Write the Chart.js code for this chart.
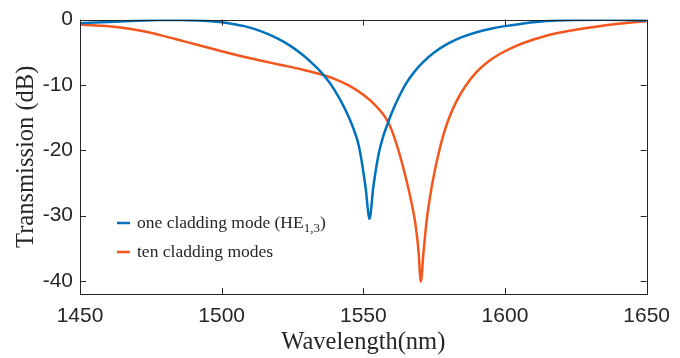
<!DOCTYPE html>
<html>
<head>
<meta charset="utf-8">
<script src="https://cdn.jsdelivr.net/npm/chart.js@4.4.0/dist/chart.umd.min.js"></script>
<style>
  html, body { margin: 0; padding: 0; background: #fff; }
  #wrap { width: 680px; height: 358px; }
</style>
</head>
<body>
<div id="wrap"><canvas id="myChart" width="680" height="358"></canvas></div>
<script>
// wavelength (nm) and transmission (dB)
var blueX = [1450, 1460, 1470, 1478, 1485, 1492, 1500, 1504, 1508, 1512, 1516, 1520, 1524, 1528, 1532, 1535, 1538, 1540, 1542, 1544, 1546, 1548, 1549, 1550.8, 1552.2, 1553.5, 1555.4, 1557, 1558.7, 1560, 1562, 1565, 1568, 1571, 1575, 1580, 1585, 1590, 1595, 1600, 1606, 1612, 1618, 1624, 1635, 1650];
var blueY = [-0.55, -0.35, -0.18, -0.08, -0.05, -0.15, -0.42, -0.66, -1.0, -1.5, -2.15, -2.95, -3.95, -5.2, -6.7, -8.0, -9.6, -10.9, -12.4, -14.1, -16.1, -18.6, -20.6, -25.7, -30.5, -25.7, -20.6, -17.9, -15.8, -14.3, -12.35, -9.85, -8.0, -6.55, -5.05, -3.65, -2.65, -1.93, -1.4, -1.0, -0.62, -0.34, -0.15, -0.05, -0.03, -0.12];

var orangeX = [1450, 1458, 1465, 1472, 1479, 1486, 1493, 1500, 1507, 1514, 1521, 1528, 1534, 1540, 1545, 1550, 1554, 1557, 1559, 1561, 1563, 1565, 1567, 1568.5, 1569.5, 1570.3, 1571.2, 1572.4, 1574.1, 1576.5, 1578.5, 1580.5, 1583, 1586, 1590, 1594, 1598, 1603, 1608, 1614, 1620, 1626, 1632, 1640, 1650];
var orangeY = [-0.75, -0.95, -1.25, -1.75, -2.45, -3.25, -4.05, -4.85, -5.6, -6.3, -6.95, -7.6, -8.25, -9.1, -10.1, -11.5, -13.0, -14.5, -15.9, -18.1, -20.9, -24.2, -28.0, -31.6, -35.5, -40.1, -35.8, -30.6, -25.7, -20.6, -17.3, -14.8, -12.4, -10.2, -8.0, -6.45, -5.3, -4.2, -3.35, -2.55, -1.95, -1.47, -1.08, -0.65, -0.25];

var xTicks = [1450, 1500, 1550, 1600, 1650];
var yTicks = [-40, -30, -20, -10, 0];
var seriesLabels = ['one cladding mode (HE_{1,3})', 'ten cladding modes'];

var axisColor = '#262626';

function toPoints(xs, ys) {
    return xs.map(function (x, i) { return { x: x, y: ys[i] }; });
}

// MATLAB style box with inward ticks on all four sides
var boxTicks = {
    id: 'boxTicks',
    afterDraw: function (chart) {
        var ctx = chart.ctx, a = chart.chartArea;
        var xs = chart.scales.x, ys = chart.scales.y;
        var len = 6;
        ctx.save();
        ctx.strokeStyle = axisColor;
        ctx.lineWidth = 1;
        ctx.beginPath();
        xTicks.forEach(function (v) {
            var px = Math.round(xs.getPixelForValue(v)) + 0.5;
            ctx.moveTo(px, a.bottom); ctx.lineTo(px, a.bottom - len);
            ctx.moveTo(px, a.top); ctx.lineTo(px, a.top + len);
        });
        yTicks.forEach(function (v) {
            var py = Math.round(ys.getPixelForValue(v)) + 0.5;
            ctx.moveTo(a.left, py); ctx.lineTo(a.left + len, py);
            ctx.moveTo(a.right, py); ctx.lineTo(a.right - len, py);
        });
        ctx.stroke();
        ctx.strokeRect(Math.round(a.left) + 0.5, Math.round(a.top) + 0.5,
            Math.round(a.right - a.left), Math.round(a.bottom - a.top));
        ctx.restore();
    }
};

// legend inside the axes, text with subscript
var innerLegend = {
    id: 'innerLegend',
    afterDatasetsDraw: function (chart) {
        var ctx = chart.ctx;
        var x0 = 117, y0 = 223, gap = 29;
        ctx.save();
        chart.data.datasets.forEach(function (ds, i) {
            var y = y0 + i * gap;
            ctx.strokeStyle = ds.borderColor;
            ctx.lineWidth = 2.5;
            ctx.beginPath();
            ctx.moveTo(x0, y); ctx.lineTo(x0 + 13, y);
            ctx.stroke();
            ctx.fillStyle = axisColor;
            ctx.textBaseline = 'middle';
            var x = x0 + 20;
            var parts = ds.label.split(/_\{|\}/);
            parts.forEach(function (p, k) {
                if (!p) return;
                if (k % 2 === 1) {
                    ctx.font = '13px "Liberation Serif"';
                    ctx.fillText(p, x, y + 6);
                } else {
                    ctx.font = '17.5px "Liberation Serif"';
                    ctx.fillText(p, x, y);
                }
                x += ctx.measureText(p).width;
            });
        });
        ctx.restore();
    }
};

var ctx = document.getElementById('myChart').getContext('2d');
var chart = new Chart(ctx, {
    type: 'line',
    data: {
        datasets: [{
            label: seriesLabels[0],
            data: toPoints(blueX, blueY),
            borderColor: '#0072BD',
            borderWidth: 2.5,
            pointRadius: 0,
            cubicInterpolationMode: 'monotone'
        }, {
            label: seriesLabels[1],
            data: toPoints(orangeX, orangeY),
            borderColor: '#F5561C',
            borderWidth: 2.5,
            pointRadius: 0,
            cubicInterpolationMode: 'monotone'
        }]
    },
    options: {
        responsive: false,
        animation: false,
        layout: { padding: { top: 18, right: 28, left: 0, bottom: 0 } },
        plugins: {
            legend: { display: false },
            tooltip: { enabled: false }
        },
        scales: {
            x: {
                type: 'linear',
                min: 1450,
                max: 1650,
                afterBuildTicks: function (s) { s.ticks = xTicks.map(function (v) { return { value: v }; }); },
                afterFit: function (s) { s.height = 64; },
                grid: { display: false, drawTicks: false },
                border: { display: false },
                ticks: {
                    color: axisColor,
                    padding: 10,
                    maxRotation: 0,
                    callback: function (v) { return String(v); },
                    font: { family: '"Liberation Sans", Arial', size: 21 }
                },
                title: {
                    display: true,
                    text: 'Wavelength(nm)',
                    color: axisColor,
                    padding: { top: 0, bottom: 3 },
                    font: { family: '"Liberation Serif", "Times New Roman"', size: 24.5, lineHeight: 1 }
                }
            },
            y: {
                min: -42,
                max: 0,
                afterBuildTicks: function (s) { s.ticks = yTicks.map(function (v) { return { value: v }; }); },
                afterFit: function (s) { s.width = 80; },
                grid: { display: false, drawTicks: false },
                border: { display: false },
                ticks: {
                    color: axisColor,
                    padding: 7,
                    callback: function (v) { return String(v); },
                    font: { family: '"Liberation Sans", Arial', size: 21 }
                },
                title: {
                    display: true,
                    text: 'Transmission (dB)',
                    color: axisColor,
                    padding: { top: 14, bottom: 0 },
                    font: { family: '"Liberation Serif", "Times New Roman"', size: 24.5, lineHeight: 1 }
                }
            }
        }
    },
    plugins: [boxTicks, innerLegend]
});
</script>
</body>
</html>
